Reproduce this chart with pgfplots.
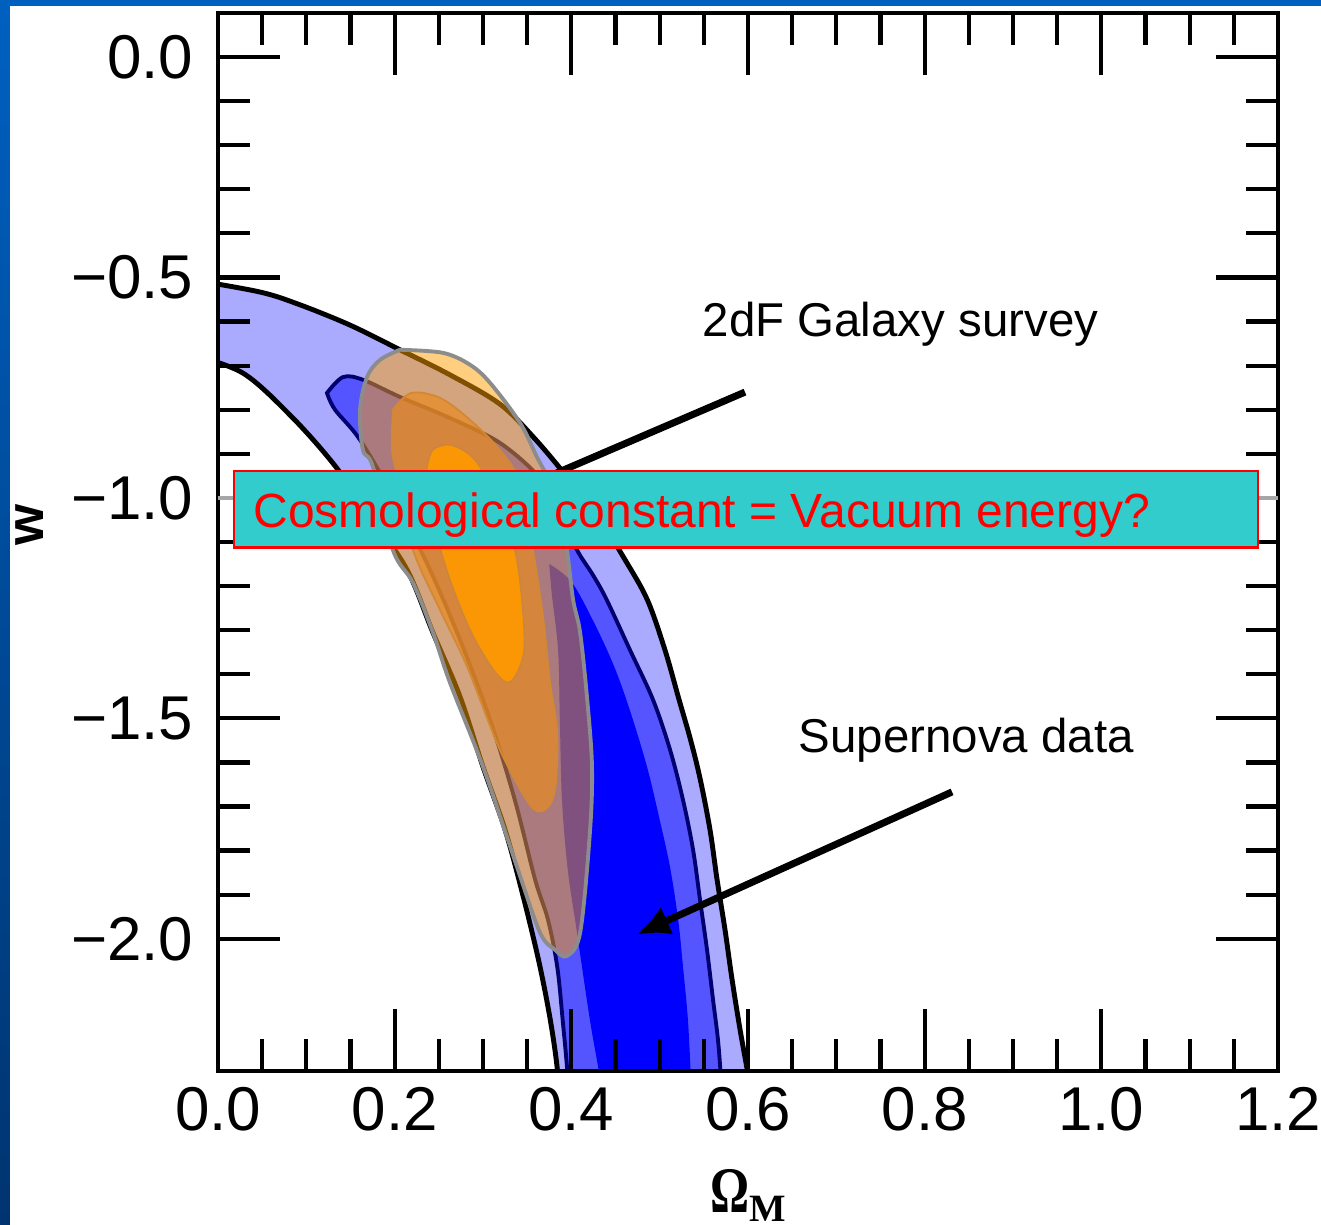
\documentclass[border=0pt]{standalone}
\usepackage{fontspec}
\setmainfont{Liberation Sans}
\newfontfamily\serifbf{Liberation Serif}
\usepackage{pgfplots}
\pgfplotsset{compat=1.18}
\usetikzlibrary{arrows.meta}
\definecolor{snlight}{HTML}{AAAAFF}
\definecolor{snmid}{HTML}{5555FF}
\definecolor{sninner}{HTML}{0000FF}
\definecolor{snnavy}{HTML}{000070}
\definecolor{dfout}{HTML}{FFA000}
\definecolor{dfmid}{HTML}{E88A20}
\definecolor{dfin}{HTML}{FF9900}
\definecolor{boxcyan}{HTML}{33CCCC}
\definecolor{slideblue}{HTML}{0060C0}
\definecolor{slidedark}{HTML}{003470}

\begin{document}
\begin{tikzpicture}
\useasboundingbox (0,0) rectangle (132.1mm,122.5mm);
\fill[white] (0,0) rectangle (132.1mm,122.5mm);
\shade[bottom color=slidedark, top color=slideblue] (0,0) rectangle (1mm,122.5mm);
\fill[slideblue] (0,121.9mm) rectangle (132.1mm,122.5mm);
\begin{axis}[at={(21.8mm,15.4mm)}, anchor=south west, scale only axis,
 width=106mm, height=105.8mm,
 xmin=0, xmax=1.2, ymin=-2.3, ymax=0.1,
 axis on top, tick align=inside,
 xtick={0,0.2,0.4,0.6,0.8,1.0,1.2},
 xticklabels={0.0,0.2,0.4,0.6,0.8,1.0,1.2},
 ytick={-2,-1.5,-1,-0.5,0},
 yticklabels={−2.0,−1.5,−1.0,−0.5,0.0},
 minor x tick num=3, minor y tick num=4,
 major tick length=6.2mm, minor tick length=3.2mm,
 axis line style={line width=1.4pt},
 tick style={line width=1.2pt, black},
 ticklabel style={font=\fontsize{17.6}{20}\selectfont},
 xticklabel style={anchor=north, inner sep=0pt, yshift=-1.6mm},
 yticklabel style={anchor=east, inner sep=0pt, xshift=-2.4mm},
 xlabel={{\serifbf\bfseries\fontsize{18.5}{20}\selectfont\scalebox{0.75}[1]{Ω}\raisebox{-0.9mm}{\fontsize{11}{12}\selectfont M}}},
 xlabel style={at={(axis description cs:0.5,-0.092)}, anchor=north, inner sep=0pt},
 ylabel={\bfseries\fontsize{15}{16}\selectfont w},
 ylabel style={at={(axis description cs:-0.178,0.516)}, anchor=center},
]
% supernova contours
\addplot[fill=snlight, draw=black, line width=1.4pt, smooth, tension=0.55] coordinates {
(-0.03,-0.505) (0.0475,-0.533) (0.0928,-0.562) (0.1494,-0.608) (0.206,-0.664)
(0.2627,-0.721) (0.319,-0.787) (0.357,-0.862) (0.395,-0.952) (0.4325,-1.050)
(0.461,-1.141) (0.486,-1.231) (0.506,-1.345) (0.522,-1.458) (0.535,-1.549)
(0.546,-1.639) (0.557,-1.753) (0.565,-1.866) (0.574,-1.980) (0.582,-2.093)
(0.591,-2.206) (0.601,-2.32) (0.604,-2.38) (0.381,-2.38) (0.385,-2.32)
(0.378,-2.206) (0.3645,-2.063) (0.345,-1.900) (0.325,-1.753) (0.300,-1.610)
(0.274,-1.451) (0.2434,-1.306) (0.214,-1.163) (0.172,-1.039) (0.130,-0.921)
(0.0815,-0.812) (0.0283,-0.717) (-0.03,-0.675)} -- cycle;
\addplot[fill=snmid, draw=snnavy, line width=1.1pt, smooth, tension=0.55] coordinates {
(0.1234,-0.762) (0.1415,-0.726) (0.164,-0.732) (0.206,-0.771) (0.2627,-0.819)
(0.319,-0.875) (0.3645,-0.955) (0.3894,-1.039) (0.4064,-1.118) (0.4245,-1.175)
(0.440,-1.231) (0.4664,-1.345) (0.4925,-1.458) (0.5117,-1.571) (0.5264,-1.685)
(0.5378,-1.798) (0.5457,-1.912) (0.5536,-2.025) (0.5604,-2.138) (0.566,-2.229)
(0.5695,-2.32) (0.571,-2.38) (0.394,-2.38) (0.396,-2.32) (0.390,-2.18)
(0.384,-2.063) (0.3736,-1.957) (0.359,-1.866) (0.336,-1.685) (0.308,-1.503)
(0.274,-1.322) (0.240,-1.163) (0.2004,-1.0045) (0.1608,-0.8685) (0.1325,-0.800)
(0.1234,-0.762)} -- cycle;
\addplot[fill=sninner, draw=none, smooth, tension=0.55] coordinates {
(0.375,-1.15) (0.400,-1.19) (0.425,-1.28) (0.448,-1.38) (0.466,-1.48)
(0.4857,-1.610) (0.500,-1.730) (0.5117,-1.837) (0.521,-1.957) (0.5264,-2.063)
(0.532,-2.184) (0.5355,-2.32) (0.537,-2.38) (0.4325,-2.38) (0.4325,-2.32)
(0.421,-2.184) (0.4064,-1.986) (0.396,-1.844) (0.3894,-1.685) (0.387,-1.503)
(0.385,-1.345) (0.378,-1.22) (0.375,-1.15)} -- cycle;
% 2dF contours
\addplot[fill=dfout, fill opacity=0.5, draw=gray!90, line width=1.1pt, smooth, tension=0.55] coordinates {
(0.206,-0.664) (0.2547,-0.671) (0.2853,-0.698) (0.308,-0.739) (0.342,-0.830)
(0.361,-0.907) (0.376,-0.966) (0.387,-1.039) (0.395,-1.118) (0.402,-1.231)
(0.410,-1.306) (0.418,-1.458) (0.4234,-1.610) (0.421,-1.760) (0.410,-1.986)
(0.395,-2.039) (0.3815,-2.025) (0.3645,-1.986) (0.3385,-1.837) (0.300,-1.610)
(0.2627,-1.4195) (0.2434,-1.306) (0.2208,-1.193) (0.198,-1.118) (0.1755,-0.930)
(0.164,-0.891) (0.1608,-0.800) (0.1687,-0.726) (0.1834,-0.687) (0.206,-0.664)} -- cycle;
\addplot[fill=dfmid, fill opacity=0.7, draw=dfmid!80!gray, line width=0.5pt, smooth, tension=0.55] coordinates {
(0.198,-0.800) (0.2185,-0.762) (0.2513,-0.773) (0.2853,-0.823) (0.319,-0.891)
(0.342,-0.966) (0.3566,-1.118) (0.368,-1.270) (0.376,-1.4195) (0.384,-1.533)
(0.3815,-1.662) (0.370,-1.7075) (0.353,-1.696) (0.319,-1.571) (0.282,-1.383)
(0.2513,-1.254) (0.2208,-1.118) (0.204,-0.959) (0.197,-0.891) (0.198,-0.800)} -- cycle;
\addplot[fill=dfin, fill opacity=0.92, draw=dfmid!70!gray, line width=0.4pt, smooth, tension=0.55] coordinates {
(0.2366,-0.930) (0.2434,-0.891) (0.2627,-0.880) (0.2853,-0.9025) (0.302,-0.948)
(0.319,-1.027) (0.336,-1.118) (0.344,-1.231) (0.3464,-1.345) (0.336,-1.406)
(0.325,-1.417) (0.308,-1.379) (0.2853,-1.299) (0.2627,-1.186) (0.2457,-1.0726)
(0.2377,-1.0045) (0.2366,-0.930)} -- cycle;
% annotations
\draw[line width=2pt] (axis cs:0.5966,-0.760) -- (axis cs:0.370,-0.955);
\draw[line width=2pt, -{Latex[length=3.4mm,width=3mm]}] (axis cs:0.831,-1.667) -- (axis cs:0.473,-1.991);
\node[anchor=base west, inner sep=0pt, font=\fontsize{13.5}{16}\selectfont] at (axis cs:0.548,-0.635) {2dF Galaxy survey};
\node[anchor=base west, inner sep=0pt, font=\fontsize{13.5}{16}\selectfont] at (axis cs:0.6566,-1.578) {Supernova data};
\coordinate (gl) at (axis cs:0,-1);
\coordinate (gr) at (axis cs:1.2,-1);
\coordinate (bl) at (axis cs:0.0181,-1.113);
\coordinate (tr) at (axis cs:1.1774,-0.939);
\coordinate (tt) at (axis cs:0.0396,-1.068);
\end{axis}
\draw[line width=1.1pt, gray!70] (gl) -- (gr);
\draw[fill=boxcyan, draw=red, line width=0.7pt] (bl) rectangle (tr);
\node[anchor=base west, inner sep=0pt, text=red, font=\fontsize{13.65}{16}\selectfont] at (tt) {Cosmological constant = Vacuum energy?};
\end{tikzpicture}
\end{document}
